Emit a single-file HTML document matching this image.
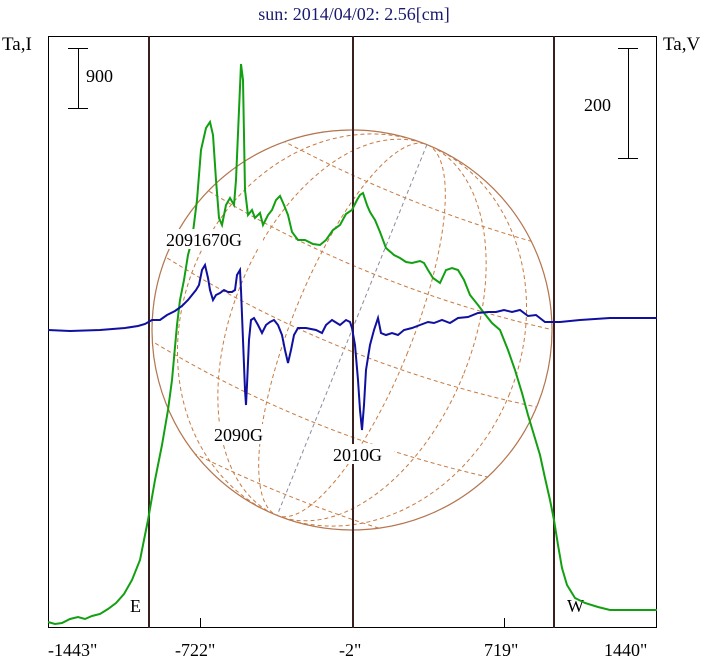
<!DOCTYPE html>
<html><head><style>
html,body{margin:0;padding:0;background:#fff;}
svg{display:block;font-family:"Liberation Serif",serif;}
</style></head><body>
<svg width="708" height="662" viewBox="0 0 708 662" xmlns="http://www.w3.org/2000/svg">
<rect width="708" height="662" fill="#fff"/>
<text x="354" y="20" font-size="18" fill="#1a1a6e" text-anchor="middle">sun: 2014/04/02: 2.56[cm]</text>
<text x="2" y="50" font-size="19" fill="#000">Ta,I</text>
<text x="663" y="50" font-size="19" fill="#000">Ta,V</text>
<defs><clipPath id="c"><circle cx="352" cy="330" r="200"/></clipPath></defs>
<circle cx="352" cy="330" r="200" fill="none" stroke="#c0703a" stroke-width="1.2"/>
<g clip-path="url(#c)" fill="none" stroke="#c87a40" stroke-width="1" stroke-dasharray="4,3" transform="rotate(22 352 330)">
<ellipse cx="352" cy="330" rx="60" ry="200"/>
<ellipse cx="352" cy="330" rx="120" ry="200"/>
<ellipse cx="352" cy="330" rx="170" ry="200"/>
<line x1="352" y1="130" x2="352" y2="530" stroke="#8a8aa0"/>
<ellipse cx="352" cy="330" rx="200" ry="200" stroke="#8a8aa0"/>
<path d="M140 250 Q352 290 564 250"/>
<path d="M140 170 Q352 205 564 170"/>
<path d="M140 330 Q352 370 564 330"/>
<path d="M140 410 Q352 450 564 410"/>
<path d="M140 490 Q352 525 564 490"/>
</g>
<rect x="48.5" y="36.5" width="608" height="591" fill="none" stroke="#000" stroke-width="1"/>
<g stroke="#3a1f1f" stroke-width="2">
<line x1="149" y1="36" x2="149" y2="628"/>
<line x1="353" y1="36" x2="353" y2="628"/>
<line x1="554" y1="36" x2="554" y2="628"/>
</g>
<g stroke="#000" stroke-width="1">
<line x1="200.5" y1="618" x2="200.5" y2="628"/>
<line x1="504.5" y1="618" x2="504.5" y2="628"/>
<line x1="78.5" y1="48" x2="78.5" y2="108"/><line x1="68" y1="48.5" x2="88" y2="48.5"/><line x1="68" y1="108.5" x2="88" y2="108.5"/>
<line x1="628.5" y1="48" x2="628.5" y2="158"/><line x1="618" y1="48.5" x2="638" y2="48.5"/><line x1="618" y1="158.5" x2="638" y2="158.5"/>
</g>
<g font-size="18" fill="#000">
<text x="86" y="82">900</text>
<text x="584" y="111">200</text>
<text x="130" y="612">E</text>
<text x="567" y="612">W</text>
<text x="48" y="656">-1443"</text>
<text x="175" y="656">-722"</text>
<text x="339" y="656">-2"</text>
<text x="484" y="656">719"</text>
<text x="604" y="656">1440"</text>
</g>
<polyline fill="none" stroke="#12a012" stroke-width="2" points="48,622 55,624 62,623 70,619 78,617 85,619 92,616 100,614 108,609 116,603 124,594 132,580 140,560 148,520 155,480 162,445 168,410 172,380 177,325 180,300 184,280 188,255 192,240 197,200 201,150 206,128 210,122 213,135 216,180 219,218 222,225 226,205 230,198 234,205 236,180 239,110 241,64 243,80 245,190 248,215 252,210 255,218 260,213 263,225 268,215 272,210 276,200 280,196 284,205 288,215 292,232 298,240 305,240 313,244 320,245 326,240 333,230 340,225 346,214 352,210 357,200 360,195 363,193 367,205 370,212 375,220 380,232 386,248 394,255 400,258 406,262 412,263 420,261 424,263 428,270 433,278 440,283 446,270 452,268 458,270 464,280 470,295 478,305 484,313 492,323 500,330 508,350 515,370 522,393 528,415 534,435 540,455 545,478 550,500 554,520 558,545 562,568 567,585 575,598 585,603 598,607 610,610 657,610"/>
<polyline fill="none" stroke="#1010a0" stroke-width="2" points="48,330 70,331 100,330 125,328 138,326 145,324 152,320 160,320 167,315 175,311 182,306 188,300 192,295 196,290 199,285 202,270 205,265 208,278 210,290 213,300 216,295 220,293 224,290 228,292 232,292 235,290 237,275 240,270 241,290 243,340 245,390 246,405 247,385 249,340 251,320 254,318 258,325 262,333 266,325 270,322 274,320 278,325 282,335 285,350 288,363 291,350 294,335 298,328 306,328 316,330 322,333 326,325 332,320 340,325 346,320 350,322 352,328 355,345 358,380 360,410 362,430 364,405 366,370 370,345 374,330 378,318 381,333 386,335 392,333 398,335 404,330 412,328 420,325 428,322 434,323 442,320 450,323 458,318 468,317 478,313 488,312 496,312 504,310 512,312 520,310 528,316 536,315 545,322 560,322 580,320 610,318 657,318"/>
<g font-size="18" fill="#000">
<rect x="166" y="229" width="97" height="20" fill="#fff"/>
<text x="166" y="246">2091670G</text>
<rect x="214" y="424" width="62" height="20" fill="#fff"/>
<text x="214" y="441">2090G</text>
<rect x="332" y="444" width="62" height="20" fill="#fff"/>
<text x="333" y="461">2010G</text>
</g>
</svg>
</body></html>
